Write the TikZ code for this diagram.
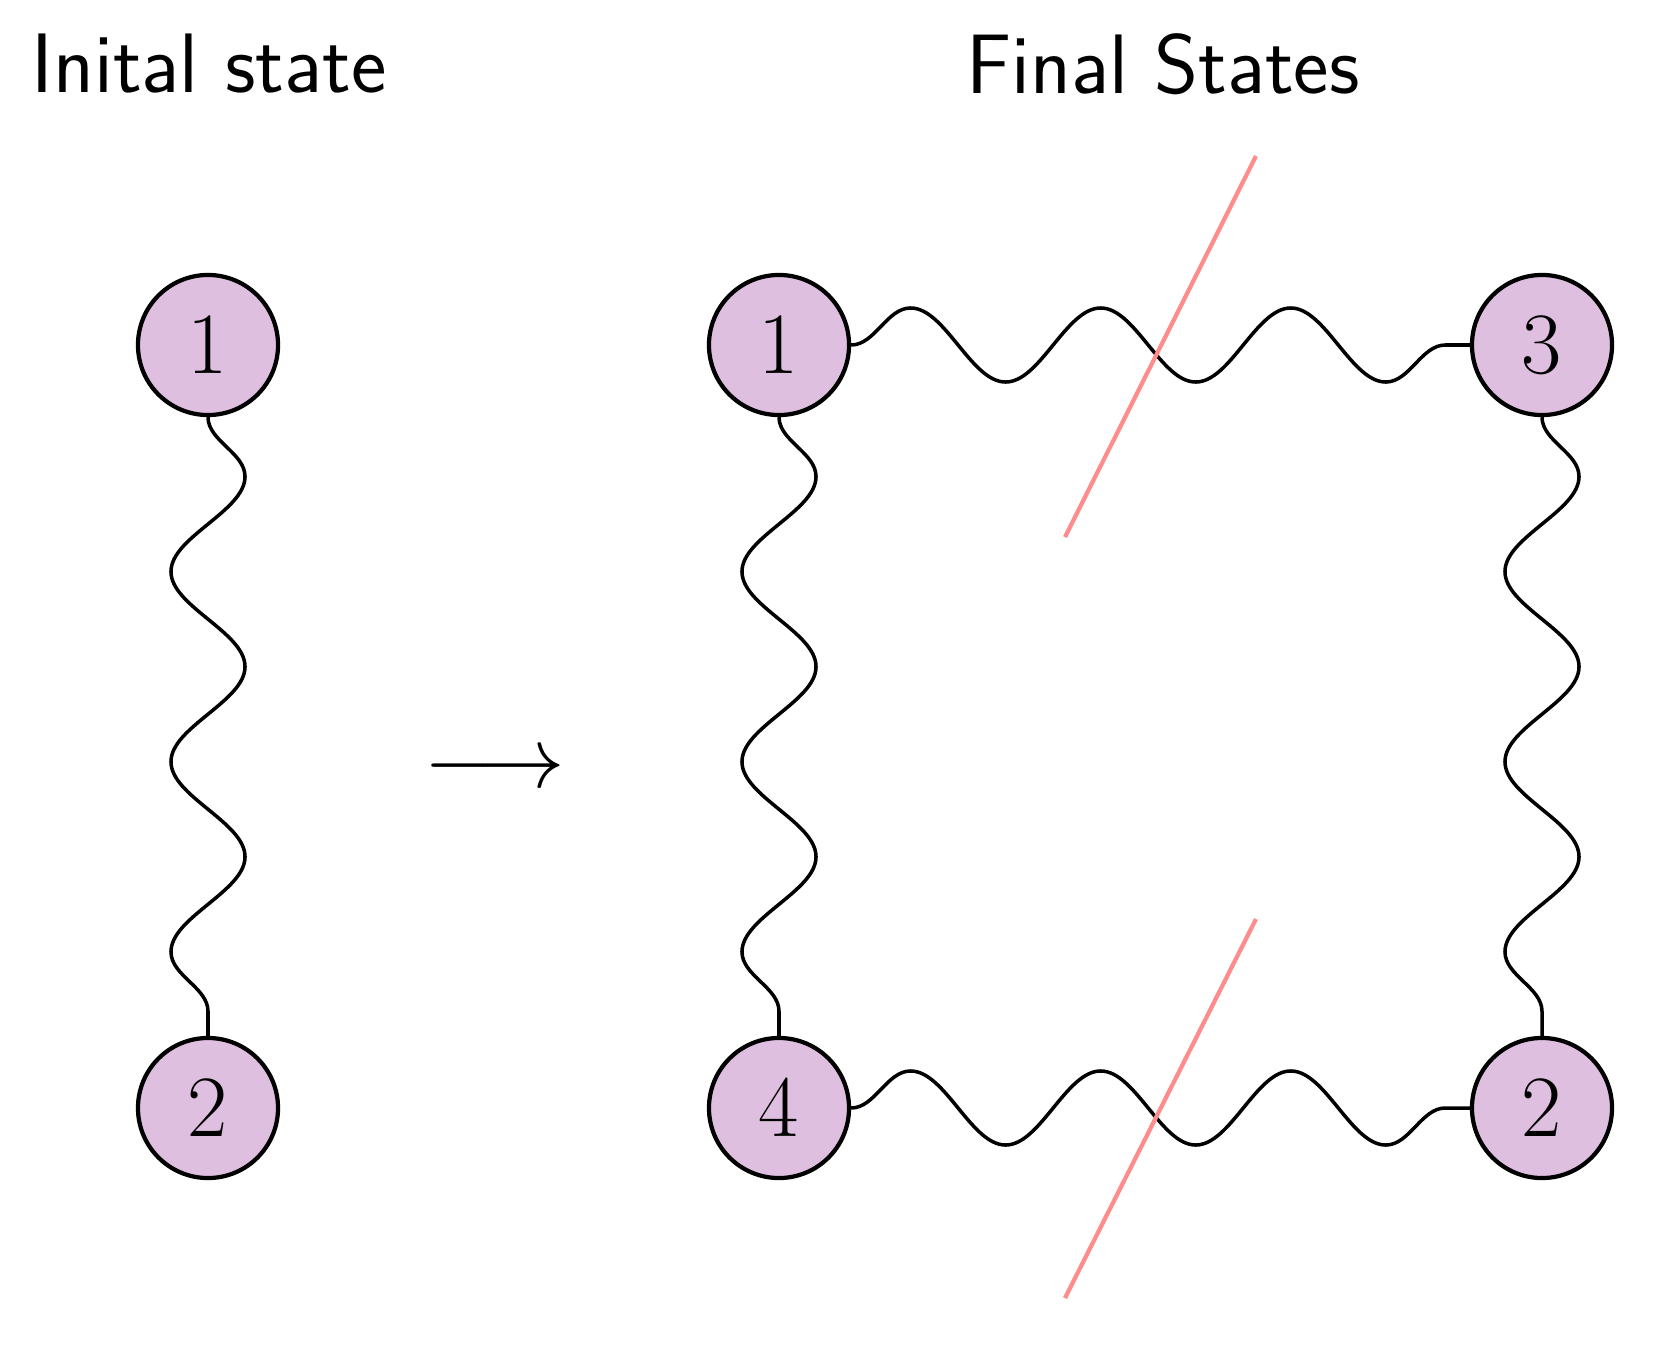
\documentclass[tikz,border=0pt]{standalone}
\usetikzlibrary{decorations.pathmorphing}
\begin{document}
\begin{tikzpicture}[x=0.01cm,y=-0.01cm,
  st/.style={circle,draw,line width=1.2pt,fill=blue!40!red!20!white,fill=violet!25,minimum size=1.4cm,inner sep=0pt,font=\fontsize{24}{28}\selectfont},
  wig/.style={line width=1pt,decorate,decoration={snake,segment length=1.9cm,amplitude=0.37cm}},
  cut/.style={red!45,line width=1.2pt}]
\useasboundingbox (0,0) rectangle (1660,1348);
\fill[violet!25] (0,0) rectangle (0,0);
\node[font=\fontsize{24}{28}\sffamily] (t1) at (209,64) {Inital state};
\node[font=\fontsize{24}{28}\sffamily] (t2) at (1163,64) {Final States};
\node[st] (a1) at (208,345) {$1$};
\node[st] (a2) at (208,1108) {$2$};
\node[font=\fontsize{24}{28}\selectfont] (ar) at (495,771) {$\longrightarrow$};
\node[st] (b1) at (779,345) {$1$};
\node[st] (b3) at (1542,345) {$3$};
\node[st] (b4) at (779,1108) {$4$};
\node[st] (b2) at (1542,1108) {$2$};
\draw[wig] (a1) -- (a2);
\draw[wig] (b1) -- (b3);
\draw[wig] (b1) -- (b4);
\draw[wig] (b3) -- (b2);
\draw[wig] (b4) -- (b2);
\coordinate (c1) at (1065,537); \coordinate (c2) at (1256,156);
\coordinate (c3) at (1065,1298); \coordinate (c4) at (1256,919);
\draw[cut] (c1) -- (c2);
\draw[cut] (c3) -- (c4);
\end{tikzpicture}
\end{document}
